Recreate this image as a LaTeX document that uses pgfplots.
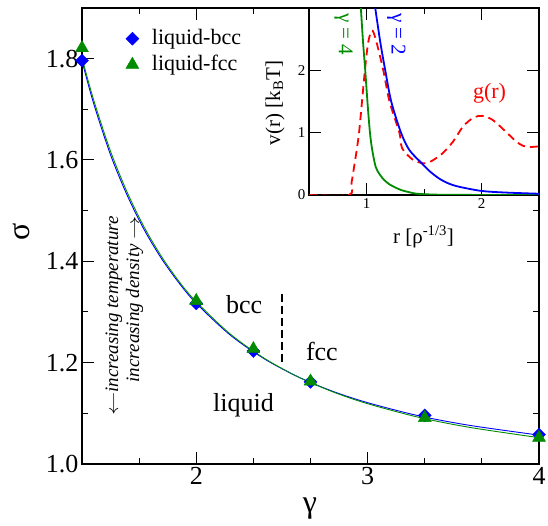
\documentclass[border=0pt]{standalone}
\usepackage{fontspec}
\setmainfont{Liberation Serif}
\usepackage{graphicx}
\usepackage{pgfplots}
\pgfplotsset{compat=1.18}
\definecolor{xblue}{RGB}{0,0,255}
\definecolor{xgreen}{RGB}{0,139,0}
\definecolor{xred}{RGB}{255,0,0}

% freezing lines sigma(gamma): simulation points
\pgfplotstableread{
g      s
1.3333 1.796
2.0000 1.317
2.3333 1.223
2.6667 1.162
3.3333 1.096
4.0000 1.058
}\bccpts
\pgfplotstableread{
g      s
1.3333 1.821
2.0000 1.322
2.3333 1.227
2.6667 1.163
3.3333 1.091
4.0000 1.052
}\fccpts
% fitted curves
\pgfplotstableread{
g    s
1.333 1.796
1.40 1.713
1.50 1.610
1.60 1.528
1.70 1.460
1.80 1.404
1.90 1.357
2.00 1.317
2.20 1.254
2.40 1.207
2.60 1.171
2.80 1.143
3.00 1.121
3.30 1.095
3.60 1.076
4.00 1.057
}\bccfit
\pgfplotstableread{
g    s
1.333 1.802
1.40 1.720
1.50 1.617
1.60 1.534
1.70 1.465
1.80 1.408
1.90 1.360
2.00 1.320
2.20 1.256
2.40 1.208
2.60 1.171
2.80 1.142
3.00 1.119
3.30 1.092
3.60 1.072
4.00 1.052
}\fccfit
% inset: pair potentials and radial distribution function
\pgfplotstableread{
r     v
0.951 3.00
0.970 2.45
0.989 2.00
1.010 1.45
1.030 1.00
1.050 0.72
1.080 0.45
1.115 0.33
1.154 0.24
1.200 0.17
1.240 0.13
1.300 0.08
1.360 0.05
1.440 0.02
1.600 0.006
1.800 0.002
2.500 0.000
}\vfour
\pgfplotstableread{
r     v
1.076 3.00
1.120 2.45
1.163 2.00
1.215 1.50
1.300 1.00
1.373 0.72
1.480 0.51
1.550 0.38
1.635 0.26
1.720 0.18
1.810 0.13
2.000 0.065
2.200 0.040
2.500 0.020
}\vtwo
\pgfplotstableread{
r     g
0.500 0.00
0.848 0.00
0.870 0.20
0.892 0.45
0.935 1.00
0.986 2.00
1.015 2.45
1.047 2.64
1.080 2.50
1.146 2.00
1.200 1.50
1.286 1.00
1.310 0.75
1.400 0.57
1.490 0.51
1.550 0.53
1.650 0.65
1.750 0.85
1.840 1.10
1.930 1.24
2.010 1.27
2.100 1.20
2.220 1.00
2.300 0.86
2.360 0.79
2.420 0.77
2.500 0.78
}\gofr

\newcommand\larr{\scalebox{1.35}[1]{$\leftarrow$}}
\newcommand\rarr{\scalebox{1.35}[1]{$\rightarrow$}}

\begin{document}
\begin{tikzpicture}[x=1pt,y=1pt]
\path[use as bounding box] (0,0) rectangle (548,526);
\begin{axis}[
  at={(82pt,62pt)}, anchor=south west,
  scale only axis, width=457pt, height=456pt,
  xmin=1.3333, xmax=4, ymin=1, ymax=1.9,
  axis line style={line width=1.6pt},
  tick style={line width=1pt, black},
  tick align=inside,
  major tick length=12pt, minor tick length=6pt,
  xtick={2,3,4}, minor xtick={1.6667,2.3333,2.6667,3.3333,3.6667},
  ytick={1,1.2,1.4,1.6,1.8}, minor ytick={1.1,1.3,1.5,1.7},
  yticklabel style={/pgf/number format/.cd, fixed, fixed zerofill, precision=1},
  /pgf/number format/assume math mode=true,
  ticklabel style={font=\fontsize{26}{30}\selectfont},
  xlabel={γ}, ylabel={σ},
  label style={font=\fontsize{32}{36}\selectfont},
  xlabel style={at={(rel axis cs:0.499,-0.0987)}, anchor=center},
  ylabel style={at={(rel axis cs:-0.1324,0.509)}, anchor=center},
  legend style={draw=none, fill=none, at={(rel axis cs:0.089,0.965)},
    anchor=north west, font=\fontsize{22}{26}\selectfont,
    row sep=1pt, nodes={text height=16pt, text depth=5pt, inner sep=2pt},
    /tikz/every odd column/.append style={column sep=11pt}},
  legend cell align=left,
  clip=false,
]
\addplot[xblue, line width=0.9pt, smooth, forget plot] table[x=g,y=s] {\bccfit};
\addplot[xgreen, line width=0.9pt, smooth, forget plot] table[x=g,y=s] {\fccfit};
\addplot[black, line width=1.6pt, dash pattern=on 8pt off 4pt, forget plot]
  coordinates {(2.5,1.201) (2.5,1.343)};
\addplot[only marks, mark=square*, mark size=4.6pt, mark options={rotate=45}, xblue]
  table[x=g,y=s] {\bccpts};
\addplot[only marks, mark=triangle*, mark size=7.5pt, xgreen] table[x=g,y=s] {\fccpts};
\legend{liquid-bcc, liquid-fcc}
\node[font=\fontsize{26}{30}\selectfont] at (axis cs:2.28,1.315) {bcc};
\node[font=\fontsize{26}{30}\selectfont] at (axis cs:2.733,1.223) {fcc};
\node[font=\fontsize{26}{30}\selectfont] at (axis cs:2.276,1.116) {liquid};
\node[rotate=90, font=\fontsize{19}{21}\selectfont\itshape, align=right]
  at (axis cs:1.581,1.292) {\larr increasing temperature\\increasing density \rarr};
\end{axis}

\begin{axis}[
  at={(309pt,331pt)}, anchor=south west,
  scale only axis, width=230pt, height=187pt,
  xmin=0.5, xmax=2.5, ymin=0, ymax=3,
  axis background/.style={fill=white},
  axis line style={line width=1.3pt},
  tick style={line width=1pt, black},
  tick align=inside,
  major tick length=12pt, minor tick length=6pt,
  xtick={1,2}, minor xtick={1.5}, ytick={0,1,2},
  /pgf/number format/assume math mode=true,
  ticklabel style={font=\fontsize{15}{18}\selectfont},
  xlabel={r [ρ\textsuperscript{-1/3}]},
  ylabel={v(r) [k\textsubscript{B}T]},
  label style={font=\fontsize{21}{24}\selectfont},
  xlabel style={at={(rel axis cs:0.498,-0.2246)}, anchor=center},
  ylabel style={at={(rel axis cs:-0.148,0.492)}, anchor=center},
  clip=true,
]
\addplot[xred, line width=1.8pt, dash pattern=on 8pt off 5pt, smooth] table[x=r,y=g] {\gofr};
\addplot[xgreen, line width=1.8pt, smooth] table[x=r,y=v] {\vfour};
\addplot[xblue, line width=1.8pt, smooth] table[x=r,y=v] {\vtwo};
\node[xgreen, rotate=-90, font=\fontsize{21}{24}\selectfont] at (axis cs:0.80,2.58) {γ = 4};
\node[xblue, rotate=-90, font=\fontsize{21}{24}\selectfont] at (axis cs:1.26,2.58) {γ = 2};
\node[xred, font=\fontsize{22}{26}\selectfont] at (axis cs:2.07,1.64) {g(r)};
\end{axis}
\end{tikzpicture}
\end{document}
